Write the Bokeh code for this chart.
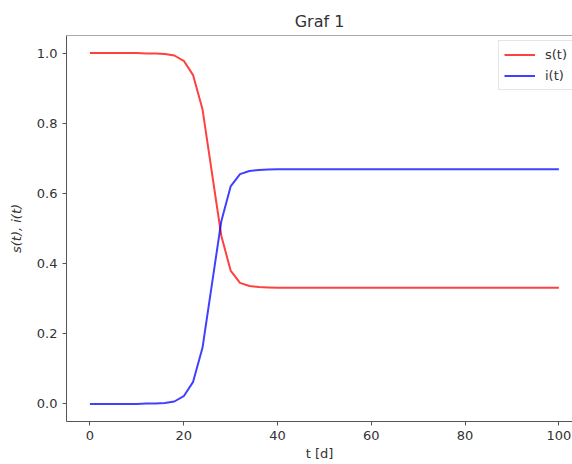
from bokeh.plotting import figure
from bokeh.models import Range1d, FixedTicker, Legend, LegendItem, Span, NumeralTickFormatter
from bokeh.embed import file_html
from bokeh.resources import INLINE

# data
t = [0, 2, 4, 6, 8, 10, 12, 14, 16, 18, 20, 22, 24, 26, 28, 30, 32, 34, 36, 38,
     40, 42, 44, 46, 48, 50, 52, 54, 56, 58, 60, 62, 64, 66, 68, 70, 72, 74, 76, 78,
     80, 82, 84, 86, 88, 90, 92, 94, 96, 98, 100]
s = [1.0, 1.0, 1.0, 1.0, 1.0, 1.0, 0.999, 0.999, 0.997, 0.993, 0.978, 0.937, 0.84, 0.66,
     0.48, 0.38, 0.345, 0.336, 0.333, 0.332, 0.331, 0.331, 0.331, 0.331, 0.331, 0.331,
     0.331, 0.331, 0.331, 0.331, 0.331, 0.331, 0.331, 0.331, 0.331, 0.331, 0.331, 0.331,
     0.331, 0.331, 0.331, 0.331, 0.331, 0.331, 0.331, 0.331, 0.331, 0.331, 0.331, 0.331, 0.331]
i = [0.0, 0.0, 0.0, 0.0, 0.0, 0.0, 0.001, 0.001, 0.003, 0.007, 0.022, 0.063, 0.16, 0.34,
     0.52, 0.62, 0.655, 0.664, 0.667, 0.668, 0.669, 0.669, 0.669, 0.669, 0.669, 0.669,
     0.669, 0.669, 0.669, 0.669, 0.669, 0.669, 0.669, 0.669, 0.669, 0.669, 0.669, 0.669,
     0.669, 0.669, 0.669, 0.669, 0.669, 0.669, 0.669, 0.669, 0.669, 0.669, 0.669, 0.669, 0.669]
x_ticks = [0, 20, 40, 60, 80, 100]
y_ticks = [0.0, 0.2, 0.4, 0.6, 0.8, 1.0]

FONT = "DejaVu Sans"
TXT = "#333333"
SPINE = "#555555"

p = figure(width=572, height=464, output_backend="svg", toolbar_location=None,
           x_range=Range1d(-5, 102.9), y_range=Range1d(-0.05, 1.05),
           min_border_left=66, min_border_right=0, min_border_top=35, min_border_bottom=43,
           title="Graf 1")
p.outline_line_color = None
p.grid.visible = False
p.background_fill_color = "white"
p.border_fill_color = "white"

p.title.align = "center"
p.title.text_font = FONT
p.title.text_font_size = "16px"
p.title.text_font_style = "normal"
p.title.text_color = TXT

for ax in (p.xaxis[0], p.yaxis[0]):
    ax.axis_line_color = SPINE
    ax.major_tick_line_color = SPINE
    ax.major_tick_in = 0
    ax.major_tick_out = 4
    ax.minor_tick_line_color = None
    ax.major_label_text_font = FONT
    ax.major_label_text_font_size = "13px"
    ax.major_label_text_color = TXT
    ax.axis_label_text_font = FONT
    ax.axis_label_text_font_size = "13px"
    ax.axis_label_text_color = TXT

p.xaxis.ticker = FixedTicker(ticks=x_ticks)
p.yaxis.ticker = FixedTicker(ticks=y_ticks)
p.yaxis.formatter = NumeralTickFormatter(format="0.0")
p.xaxis.axis_label = "t [d]"
p.yaxis.axis_label = "s(t), i(t)"
p.yaxis.axis_label_text_font_style = "italic"
p.xaxis.axis_label_text_font_style = "normal"
p.xaxis.major_label_standoff = 5
p.yaxis.major_label_standoff = 5
p.xaxis.axis_label_standoff = 3
p.yaxis.axis_label_standoff = 10

p.add_layout(Span(location=1.05, dimension="width", line_color=SPINE, line_width=1))

r1 = p.line(t, s, line_color="red", line_width=2, line_alpha=0.75)
r2 = p.line(t, i, line_color="blue", line_width=2, line_alpha=0.75)

legend = Legend(items=[LegendItem(label="s(t)", renderers=[r1]),
                       LegendItem(label="i(t)", renderers=[r2])],
                location=(432, 331))
legend.padding = 5
legend.spacing = 4
legend.glyph_height = 17
legend.glyph_width = 31
legend.label_height = 17
legend.label_standoff = 10
legend.label_text_font = FONT
legend.label_text_font_size = "13px"
legend.label_text_color = TXT
legend.border_line_color = "#cccccc"
legend.border_line_width = 1
legend.background_fill_alpha = 0.8
legend.margin = 0
p.add_layout(legend)

open("out.html", "w").write(file_html(p, INLINE))
